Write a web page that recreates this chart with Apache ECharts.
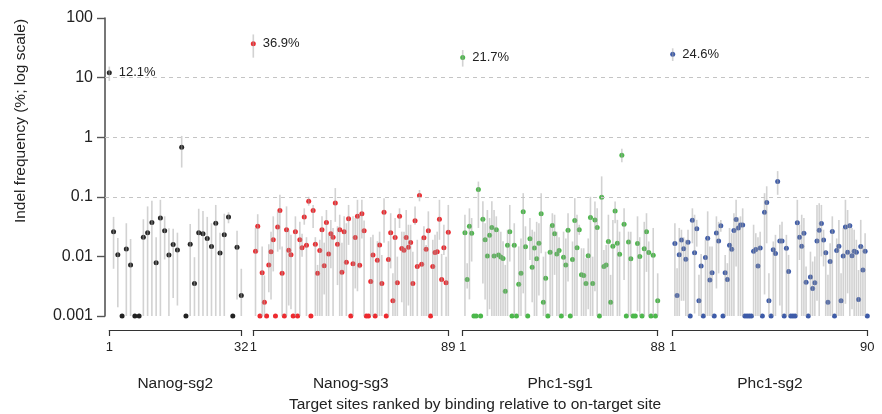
<!DOCTYPE html>
<html>
<head>
<meta charset="utf-8">
<script src="https://cdn.jsdelivr.net/npm/echarts@6/dist/echarts.min.js"></script>
<style>
  html, body { margin: 0; padding: 0; background: #fff; }
  #chart { width: 882px; height: 414px; }
</style>
</head>
<body>
<div id="chart"></div>
<script>
// panel names and colours
const panelNames = ['Nanog-sg2', 'Nanog-sg3', 'Phc1-sg1', 'Phc1-sg2']
const panelColors = ['#222222', '#ee2a2f', '#4cb84b', '#3d5ba9']

// y axis (log scale), decade tick labels and dashed guide lines
const yTickLabels = ['0.001', '0.01', '0.1', '1', '10', '100']
const guideLines = [10, 1, 0.1]

// Nanog-sg2 (rank 1 = on-target site)
const sg2Vals = [12.1, 0.026, 0.0107, 0.001, 0.0133, 0.0072, 0.001, 0.001, 0.021, 0.025, 0.037, 0.0078, 0.044, 0.027, 0.0106, 0.0158,
  0.0128, 0.68, 0.001, 0.016, 0.0035, 0.025, 0.024, 0.020, 0.0146, 0.036, 0.0114, 0.023, 0.046, 0.001, 0.0142, 0.0022]
const sg2Lo = [8.8, 0.0062, 0.0014, 0.001, 0.001, 0.001, 0.001, 0.001, 0.001, 0.001, 0.001, 0.001, 0.001, 0.0089, 0.001, 0.002,
  0.0015, 0.31, 0.001, 0.001, 0.001, 0.001, 0.001, 0.001, 0.001, 0.001, 0.001, 0.001, 0.036, 0.001, 0.0019, 0.001]
const sg2Hi = [15.3, 0.046, 0.0204, 0.001, 0.036, 0.0196, 0.001, 0.001, 0.042, 0.069, 0.086, 0.021, 0.089, 0.047, 0.0296, 0.029,
  0.025, 1.05, 0.001, 0.035, 0.0097, 0.063, 0.058, 0.046, 0.036, 0.073, 0.025, 0.052, 0.055, 0.001, 0.027, 0.0062]

// Nanog-sg3
const sg3Vals = [36.9, 0.0122, 0.032, 0.001, 0.0053, 0.0017, 0.001, 0.0072, 0.012, 0.019, 0.001, 0.031, 0.059, 0.0052, 0.001, 0.028,
  0.0127, 0.0107, 0.001, 0.026, 0.001, 0.019, 0.014, 0.046, 0.0154, 0.084, 0.001, 0.059, 0.016, 0.0052, 0.0125, 0.028,
  0.007, 0.037, 0.011, 0.024, 0.021, 0.079, 0.016, 0.028, 0.0054, 0.026, 0.008, 0.043, 0.001, 0.0075, 0.0207, 0.047,
  0.0071, 0.052, 0.027, 0.001, 0.001, 0.0038, 0.0106, 0.001, 0.0086, 0.0156, 0.0035, 0.055, 0.001, 0.0089, 0.025, 0.0018,
  0.0207, 0.0036, 0.047, 0.0136, 0.0127, 0.0207, 0.0143, 0.0171, 0.0035, 0.0395, 0.0068, 0.105, 0.0074, 0.0205, 0.0132, 0.027,
  0.001, 0.0068, 0.0116, 0.012, 0.042, 0.0041, 0.014, 0.0036, 0.0255]
const sg3Lo = [21.6, 0.001, 0.012, 0.001, 0.001, 0.001, 0.001, 0.0025, 0.0019, 0.0056, 0.001, 0.012, 0.013, 0.001, 0.001, 0.001,
  0.0015, 0.0013, 0.001, 0.001, 0.001, 0.001, 0.0099, 0.034, 0.001, 0.071, 0.001, 0.03, 0.001, 0.001, 0.001, 0.001,
  0.0023, 0.001, 0.001, 0.0063, 0.001, 0.038, 0.0033, 0.001, 0.001, 0.0056, 0.001, 0.0156, 0.001, 0.001, 0.0029, 0.0026,
  0.0063, 0.02, 0.001, 0.001, 0.001, 0.001, 0.001, 0.001, 0.001, 0.001, 0.001, 0.017, 0.001, 0.001, 0.0063, 0.001,
  0.001, 0.001, 0.03, 0.0017, 0.001, 0.001, 0.0015, 0.001, 0.001, 0.034, 0.001, 0.084, 0.001, 0.001, 0.001, 0.001,
  0.001, 0.001, 0.001, 0.001, 0.019, 0.001, 0.0106, 0.001, 0.001]
const sg3Hi = [53, 0.03, 0.051, 0.001, 0.0147, 0.0048, 0.001, 0.016, 0.026, 0.047, 0.001, 0.057, 0.108, 0.0147, 0.001, 0.069,
  0.028, 0.023, 0.001, 0.047, 0.001, 0.038, 0.024, 0.064, 0.021, 0.1, 0.001, 0.073, 0.021, 0.0072, 0.019, 0.047,
  0.017, 0.06, 0.024, 0.041, 0.03, 0.14, 0.032, 0.05, 0.017, 0.047, 0.036, 0.073, 0.001, 0.047, 0.044, 0.089,
  0.05, 0.089, 0.04, 0.001, 0.001, 0.021, 0.023, 0.001, 0.018, 0.026, 0.0106, 0.095, 0.001, 0.018, 0.053, 0.0052,
  0.044, 0.0099, 0.064, 0.026, 0.026, 0.06, 0.034, 0.034, 0.012, 0.069, 0.019, 0.13, 0.02, 0.032, 0.0156, 0.057,
  0.001, 0.019, 0.023, 0.026, 0.089, 0.011, 0.034, 0.0099, 0.073]

// Phc1-sg1
const phc1Vals = [21.7, 0.025, 0.0041, 0.032, 0.0245, 0.001, 0.001, 0.133, 0.001, 0.042, 0.019, 0.0102, 0.0227, 0.0305, 0.0102, 0.028,
  0.0106, 0.0098, 0.0092, 0.0026, 0.0154, 0.026, 0.001, 0.0154, 0.001, 0.0034, 0.0052, 0.056, 0.0145, 0.001, 0.0197, 0.0066,
  0.0139, 0.0091, 0.0166, 0.052, 0.0017, 0.0043, 0.001, 0.0117, 0.033, 0.024, 0.011, 0.0125, 0.001, 0.0097, 0.0072, 0.0275,
  0.001, 0.0089, 0.040, 0.014, 0.028, 0.0049, 0.0048, 0.0035, 0.0103, 0.045, 0.0035, 0.041, 0.0305, 0.001, 0.098, 0.0068,
  0.0072, 0.0178, 0.0017, 0.0148, 0.058, 0.0166, 0.0109, 0.50, 0.0347, 0.001, 0.0175, 0.0091, 0.001, 0.001, 0.0164, 0.010,
  0.001, 0.0134, 0.026, 0.0116, 0.001, 0.0105, 0.001, 0.0018]
const phc1Lo = [15.3, 0.001, 0.0029, 0.0019, 0.0082, 0.001, 0.001, 0.03, 0.001, 0.0035, 0.0019, 0.001, 0.0013, 0.001, 0.001, 0.001,
  0.001, 0.001, 0.001, 0.001, 0.001, 0.0082, 0.001, 0.001, 0.001, 0.001, 0.001, 0.0024, 0.001, 0.001, 0.0087, 0.0017,
  0.001, 0.001, 0.0022, 0.0113, 0.001, 0.001, 0.001, 0.001, 0.001, 0.0049, 0.001, 0.001, 0.001, 0.001, 0.001, 0.0038,
  0.001, 0.001, 0.001, 0.001, 0.023, 0.001, 0.001, 0.001, 0.0013, 0.001, 0.001, 0.0026, 0.001, 0.001, 0.001, 0.001,
  0.001, 0.001, 0.001, 0.001, 0.036, 0.001, 0.001, 0.38, 0.004, 0.001, 0.001, 0.001, 0.001, 0.001, 0.0012, 0.001,
  0.001, 0.001, 0.0055, 0.001, 0.001, 0.001, 0.001, 0.001]
const phc1Hi = [29, 0.05, 0.0077, 0.064, 0.044, 0.001, 0.001, 0.18, 0.001, 0.084, 0.036, 0.06, 0.044, 0.084, 0.06, 0.047,
  0.028, 0.026, 0.018, 0.0072, 0.028, 0.073, 0.001, 0.036, 0.001, 0.0147, 0.02, 0.115, 0.032, 0.001, 0.044, 0.028,
  0.026, 0.038, 0.036, 0.115, 0.0099, 0.012, 0.001, 0.032, 0.053, 0.05, 0.026, 0.021, 0.001, 0.026, 0.02, 0.053,
  0.001, 0.0178, 0.095, 0.05, 0.034, 0.0137, 0.0137, 0.0093, 0.02, 0.1, 0.0099, 0.083, 0.064, 0.001, 0.22, 0.0128,
  0.0156, 0.05, 0.0049, 0.041, 0.083, 0.041, 0.026, 0.64, 0.064, 0.001, 0.026, 0.026, 0.001, 0.001, 0.047, 0.021,
  0.001, 0.038, 0.053, 0.0178, 0.001, 0.03, 0.001, 0.0052]

// Phc1-sg2
const phc2Vals = [24.6, 0.0164, 0.0022, 0.0107, 0.0189, 0.0135, 0.009, 0.0173, 0.001, 0.0405, 0.0115, 0.029, 0.0018, 0.0069, 0.001, 0.0096,
  0.0202, 0.004, 0.0053, 0.001, 0.0248, 0.0182, 0.0326, 0.001, 0.0053, 0.0041, 0.0154, 0.0132, 0.0272, 0.0416, 0.030, 0.0338,
  0.0338, 0.001, 0.001, 0.001, 0.001, 0.0122, 0.013, 0.0069, 0.0139, 0.001, 0.055, 0.080, 0.0018, 0.001, 0.0129, 0.0112,
  0.181, 0.0182, 0.0182, 0.001, 0.0137, 0.0056, 0.001, 0.001, 0.001, 0.0366, 0.021, 0.0148, 0.0245, 0.0037, 0.001, 0.0045,
  0.0029, 0.0036, 0.0182, 0.0275, 0.0356, 0.0189, 0.0115, 0.0017, 0.0082, 0.0261, 0.001, 0.0126, 0.0148, 0.0018, 0.0102, 0.031,
  0.0117, 0.0326, 0.0103, 0.0122, 0.0117, 0.0019, 0.0146, 0.0059, 0.0122, 0.001]
const phc2Lo = [19, 0.001, 0.001, 0.001, 0.0018, 0.0018, 0.001, 0.001, 0.001, 0.0166, 0.0011, 0.0146, 0.001, 0.001, 0.001, 0.001,
  0.001, 0.001, 0.001, 0.001, 0.0029, 0.0052, 0.026, 0.001, 0.001, 0.001, 0.001, 0.001, 0.001, 0.0068, 0.001, 0.001,
  0.001, 0.001, 0.001, 0.001, 0.001, 0.001, 0.001, 0.001, 0.001, 0.001, 0.0023, 0.0166, 0.001, 0.001, 0.001, 0.001,
  0.108, 0.0015, 0.001, 0.001, 0.001, 0.001, 0.001, 0.001, 0.001, 0.001, 0.0087, 0.001, 0.001, 0.001, 0.001, 0.001,
  0.001, 0.001, 0.0018, 0.001, 0.01, 0.0068, 0.001, 0.001, 0.001, 0.001, 0.001, 0.001, 0.001, 0.001, 0.001, 0.0016,
  0.0024, 0.001, 0.0013, 0.001, 0.001, 0.001, 0.001, 0.001, 0.001, 0.001]
const phc2Hi = [31, 0.036, 0.0063, 0.03, 0.028, 0.021, 0.019, 0.028, 0.001, 0.064, 0.05, 0.041, 0.0049, 0.011, 0.001, 0.019,
  0.057, 0.0146, 0.0146, 0.001, 0.047, 0.038, 0.041, 0.001, 0.0106, 0.0077, 0.03, 0.0245, 0.053, 0.089, 0.045, 0.047,
  0.064, 0.001, 0.001, 0.001, 0.001, 0.034, 0.0245, 0.021, 0.026, 0.001, 0.115, 0.15, 0.0052, 0.001, 0.0178, 0.023,
  0.27, 0.034, 0.038, 0.001, 0.023, 0.0106, 0.001, 0.001, 0.001, 0.089, 0.034, 0.05, 0.044, 0.0068, 0.001, 0.012,
  0.0082, 0.01, 0.073, 0.078, 0.073, 0.028, 0.0128, 0.0049, 0.0166, 0.047, 0.001, 0.02, 0.041, 0.0052, 0.03, 0.089,
  0.06, 0.036, 0.03, 0.028, 0.019, 0.0059, 0.041, 0.0146, 0.0245, 0.001]

const panels = [
  { vals: sg2Vals, lo: sg2Lo, hi: sg2Hi },
  { vals: sg3Vals, lo: sg3Lo, hi: sg3Hi },
  { vals: phc1Vals, lo: phc1Lo, hi: phc1Hi },
  { vals: phc2Vals, lo: phc2Lo, hi: phc2Hi }
]

const FONT = "'Liberation Sans', Arial, Helvetica, sans-serif"
const TEXT = '#222'
const plotTop = 18
const plotHeight = 298
const panelBoxes = [
  { left: 109.3, width: 132 },
  { left: 253.3, width: 195 },
  { left: 462.7, width: 195 },
  { left: 672.7, width: 194.6 }
]

const chart = echarts.init(document.getElementById('chart'), null, { renderer: 'canvas' })

const grids = [{ left: 105, top: plotTop, width: 765, height: plotHeight, outerBoundsMode: 'none' }]
const xAxes = [{ gridIndex: 0, type: 'value', min: 0, max: 1, show: false }]
const yAxes = [{
  gridIndex: 0,
  type: 'log',
  logBase: 10,
  min: 0.001,
  max: 100,
  axisLine: { show: true, lineStyle: { color: '#555', width: 1.6 } },
  axisTick: { show: true, length: 8, lineStyle: { color: '#555', width: 1.4 } },
  axisLabel: {
    fontSize: 16,
    color: TEXT,
    margin: 12,
    fontFamily: FONT,
    formatter: (v) => yTickLabels[Math.round(Math.log10(v)) + 3]
  },
  splitLine: { show: false }
}]

// dashed guides at 10, 1 and 0.1 run across all four panels
const series = [{
  type: 'line',
  xAxisIndex: 0,
  yAxisIndex: 0,
  data: [],
  silent: true,
  markLine: {
    silent: true,
    symbol: 'none',
    label: { show: false },
    lineStyle: { type: [4, 4], color: '#c4c4c4', width: 1 },
    data: guideLines.map((v) => ({ yAxis: v }))
  }
}]

panels.forEach((p, i) => {
  const idx = i + 1
  const n = p.vals.length
  grids.push({ left: panelBoxes[i].left, top: plotTop, width: panelBoxes[i].width, height: plotHeight, outerBoundsMode: 'none' })
  xAxes.push({
    gridIndex: idx,
    type: 'value',
    min: 1,
    max: n,
    position: 'bottom',
    offset: 14,
    axisLine: { show: true, lineStyle: { color: '#333', width: 1.2 } },
    axisTick: { show: true, customValues: [1, n], length: 6, inside: false, lineStyle: { color: '#333', width: 1.2 } },
    axisLabel: { customValues: [1, n], fontSize: 13, color: TEXT, margin: 11, fontFamily: FONT },
    splitLine: { show: false },
    name: panelNames[i],
    nameLocation: 'middle',
    nameGap: 46,
    nameTextStyle: { fontSize: 15.5, color: TEXT, fontFamily: FONT }
  })
  yAxes.push({ gridIndex: idx, type: 'log', logBase: 10, min: 0.001, max: 100, show: false })

  series.push({
    type: 'scatter',
    xAxisIndex: idx,
    yAxisIndex: idx,
    symbol: 'circle',
    symbolSize: 5,
    itemStyle: { color: panelColors[i], opacity: 1 },
    z: 2,
    data: p.vals.map((v, j) => {
      if (j === 0) {
        // on-target site gets its percentage written beside it
        return {
          value: [1, v],
          label: {
            show: true,
            position: 'right',
            distance: 7,
            fontSize: 13,
            color: TEXT,
            fontFamily: FONT,
            formatter: (d) => d.value[1] + '%'
          }
        }
      }
      return [j + 1, v]
    })
  })

  // error bars, drawn over the dots like the original
  series.push({
    type: 'custom',
    xAxisIndex: idx,
    yAxisIndex: idx,
    z: 3,
    silent: true,
    encode: { x: 0, y: [1, 2] },
    data: p.vals.map((v, j) => [j + 1, p.lo[j], p.hi[j]]),
    renderItem: (params, api) => {
      const a = api.coord([api.value(0), api.value(1)])
      const b = api.coord([api.value(0), api.value(2)])
      if (Math.abs(a[1] - b[1]) < 0.5) return null
      return {
        type: 'line',
        shape: { x1: a[0], y1: a[1], x2: b[0], y2: b[1] },
        style: { stroke: 'rgba(165,165,165,0.5)', lineWidth: 1.6 }
      }
    }
  })
})

chart.setOption({
  animation: false,
  textStyle: { fontFamily: FONT },
  grid: grids,
  xAxis: xAxes,
  yAxis: yAxes,
  series: series,
  graphic: [
    {
      type: 'text',
      x: 21,
      y: 121,
      rotation: Math.PI / 2,
      style: { text: 'Indel frequency (%; log scale)', fill: TEXT, font: '15.5px ' + FONT, align: 'center', verticalAlign: 'middle' }
    },
    {
      type: 'text',
      x: 475,
      y: 405,
      style: { text: 'Target sites ranked by binding relative to on-target site', fill: TEXT, font: '15.5px ' + FONT, align: 'center', verticalAlign: 'middle' }
    }
  ]
})
</script>
</body>
</html>
